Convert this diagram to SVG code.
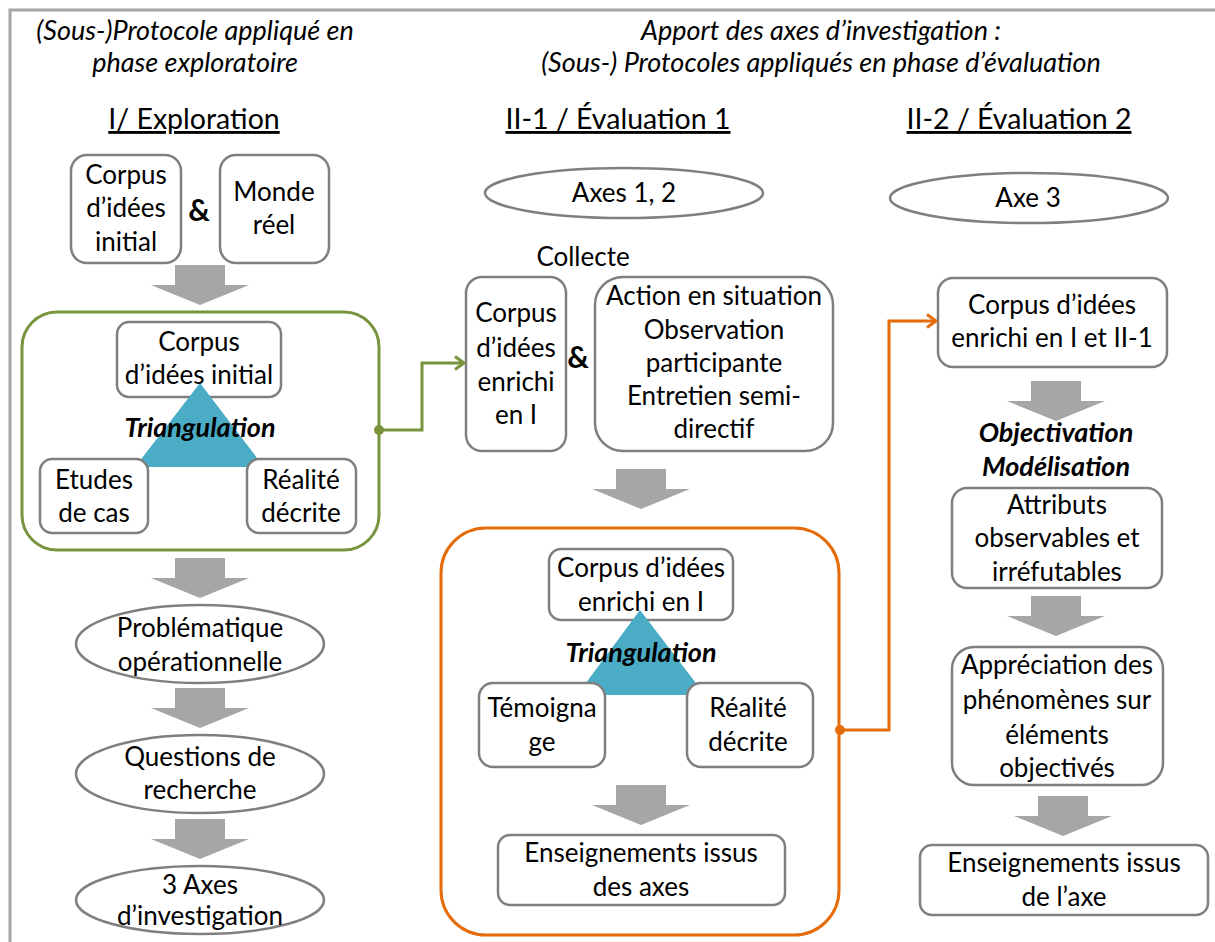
<svg xmlns="http://www.w3.org/2000/svg" width="1215" height="942" viewBox="0 0 1215 942">
<style>
text{font-family:Lato,"Liberation Sans",sans-serif;fill:#000;text-anchor:middle}
.t{font-size:26px}
.h{font-size:28.5px;text-decoration:underline}
.i{font-size:27px;font-style:italic}
.b{font-size:27px;font-style:italic;font-weight:bold}
.amp{font-size:30px;font-weight:bold}
.box{fill:#fff;stroke:#7f7f7f;stroke-width:2.5}
.tri{fill:#4bacc6}
.frame{stroke:#a6a6a6;stroke-width:3;fill:none}
</style>
<defs>
<path id="bigArrow" d="M-25,0 H25 V20 H49 L0,40 L-49,20 H-25 Z" fill="#a6a6a6"/>
<marker id="mGreen" markerWidth="14" markerHeight="16" refX="11" refY="8" orient="auto" markerUnits="userSpaceOnUse">
<path d="M2,1.5 L11,8 L2,14.5" fill="none" stroke="#77933c" stroke-width="3"/>
</marker>
<marker id="mOrange" markerWidth="14" markerHeight="16" refX="11" refY="8" orient="auto" markerUnits="userSpaceOnUse">
<path d="M2,1.5 L11,8 L2,14.5" fill="none" stroke="#e46c0a" stroke-width="3"/>
</marker>
</defs>

<path class="frame" d="M10,942 V10 H1215"/>

<g id="headers">
<text class="i" x="195" y="40">(Sous-)Protocole appliqué en</text>
<text class="i" x="195" y="72">phase exploratoire</text>
<text class="i" x="821" y="40">Apport des axes d’investigation :</text>
<text class="i" x="821" y="72">(Sous-) Protocoles appliqués en phase d’évaluation</text>
<text class="h" x="194" y="129">I/ Exploration</text>
<text class="h" x="618" y="129">II-1 / Évaluation 1</text>
<text class="h" x="1019" y="129">II-2 / Évaluation 2</text>
</g>

<g id="block-arrows">
<use href="#bigArrow" x="200" y="265"/>
<use href="#bigArrow" x="200" y="558"/>
<use href="#bigArrow" x="200" y="688"/>
<use href="#bigArrow" x="200" y="819"/>
<use href="#bigArrow" x="641" y="469"/>
<use href="#bigArrow" x="1056" y="381"/>
<use href="#bigArrow" x="1056" y="596"/>
<use href="#bigArrow" x="1063" y="796"/>
</g>

<!-- Column I -->
<g id="corpus-initial">
<rect class="box" x="71" y="155" width="110" height="108" rx="16"/>
<text class="t" x="126" y="184">Corpus</text>
<text class="t" x="126" y="217">d’idées</text>
<text class="t" x="126" y="251">initial</text>
</g>
<g id="amp1"><text class="amp" x="199" y="221">&amp;</text></g>
<g id="monde-reel">
<rect class="box" x="220" y="155" width="109" height="108" rx="16"/>
<text class="t" x="274" y="201">Monde</text>
<text class="t" x="274" y="234">réel</text>
</g>

<g id="triangulation-1">
<rect x="22" y="312" width="357" height="238" rx="35" fill="#fff" stroke="#77933c" stroke-width="3"/>
<rect class="box" x="117" y="322" width="164" height="75" rx="12"/>
<polygon class="tri" points="200,383 135,467 264,467"/>
<text class="t" x="199" y="351">Corpus</text>
<text class="t" x="199" y="384">d’idées initial</text>
<rect class="box" x="40" y="459" width="108" height="74" rx="12"/>
<text class="t" x="94" y="489">Etudes</text>
<text class="t" x="94" y="522">de cas</text>
<rect class="box" x="247" y="459" width="109" height="74" rx="12"/>
<text class="t" x="301" y="489">Réalité</text>
<text class="t" x="301" y="522">décrite</text>
<text class="b" x="200" y="437">Triangulation</text>
</g>

<g id="problematique">
<ellipse class="box" cx="200" cy="644" rx="124" ry="39"/>
<text class="t" x="200" y="637">Problématique</text>
<text class="t" x="200" y="671">opérationnelle</text>
</g>
<g id="questions">
<ellipse class="box" cx="200" cy="774" rx="124" ry="39"/>
<text class="t" x="200" y="766">Questions de</text>
<text class="t" x="200" y="799">recherche</text>
</g>
<g id="axes3">
<ellipse class="box" cx="200" cy="900" rx="124" ry="34"/>
<text class="t" x="200" y="894">3 Axes</text>
<text class="t" x="200" y="925">d’investigation</text>
</g>

<!-- Column II-1 -->
<g id="axes12">
<ellipse class="box" cx="624" cy="193" rx="139" ry="25"/>
<text class="t" x="624" y="202">Axes 1, 2</text>
</g>
<g id="collecte"><text class="t" x="583" y="266">Collecte</text></g>
<g id="corpus-enrichi-I">
<rect class="box" x="466" y="277" width="100" height="174" rx="16"/>
<text class="t" x="516" y="322">Corpus</text>
<text class="t" x="516" y="357">d’idées</text>
<text class="t" x="516" y="391">enrichi</text>
<text class="t" x="516" y="424">en I</text>
</g>
<g id="amp2"><text class="amp" x="578" y="368">&amp;</text></g>
<g id="action">
<rect class="box" x="595" y="277" width="238" height="174" rx="28"/>
<text class="t" x="714" y="305">Action en situation</text>
<text class="t" x="714" y="339">Observation</text>
<text class="t" x="714" y="372">participante</text>
<text class="t" x="714" y="405">Entretien semi-</text>
<text class="t" x="714" y="438">directif</text>
</g>

<g id="triangulation-2">
<rect x="441" y="528" width="398" height="407" rx="45" fill="#fff" stroke="#e46c0a" stroke-width="3"/>
<rect class="box" x="549" y="549" width="184" height="71" rx="12"/>
<polygon class="tri" points="640,610 577,695 705,695"/>
<text class="t" x="641" y="577">Corpus d’idées</text>
<text class="t" x="641" y="611">enrichi en I</text>
<rect class="box" x="479" y="683" width="126" height="84" rx="14"/>
<text class="t" x="542" y="717">Témoigna</text>
<text class="t" x="542" y="751">ge</text>
<rect class="box" x="687" y="683" width="126" height="84" rx="14"/>
<text class="t" x="748" y="717">Réalité</text>
<text class="t" x="748" y="751">décrite</text>
<text class="b" x="641" y="662">Triangulation</text>
<use href="#bigArrow" x="641" y="785"/>
<rect class="box" x="498" y="835" width="287" height="70" rx="12"/>
<text class="t" x="641" y="862">Enseignements issus</text>
<text class="t" x="641" y="896">des axes</text>
</g>

<!-- Column II-2 -->
<g id="axe3">
<ellipse class="box" cx="1029" cy="198" rx="139" ry="25"/>
<text class="t" x="1028" y="207">Axe 3</text>
</g>
<g id="corpus-enrichi-I-II1">
<rect class="box" x="938" y="278" width="229" height="89" rx="15"/>
<text class="t" x="1052" y="314">Corpus d’idées</text>
<text class="t" x="1052" y="347">enrichi en I et II-1</text>
</g>
<g id="objectivation">
<text class="b" x="1056" y="442">Objectivation</text>
<text class="b" x="1056" y="476">Modélisation</text>
</g>
<g id="attributs">
<rect class="box" x="952" y="488" width="210" height="100" rx="15"/>
<text class="t" x="1057" y="514">Attributs</text>
<text class="t" x="1057" y="547">observables et</text>
<text class="t" x="1057" y="581">irréfutables</text>
</g>
<g id="appreciation">
<rect class="box" x="952" y="647" width="211" height="138" rx="22"/>
<text class="t" x="1057" y="674">Appréciation des</text>
<text class="t" x="1057" y="709">phénomènes sur</text>
<text class="t" x="1057" y="744">éléments</text>
<text class="t" x="1057" y="777">objectivés</text>
</g>
<g id="enseignements-axe">
<rect class="box" x="920" y="845" width="288" height="70" rx="12"/>
<text class="t" x="1064" y="872">Enseignements issus</text>
<text class="t" x="1064" y="906">de l’axe</text>
</g>

<g id="connectors" fill="none" stroke-width="3" stroke-linejoin="miter">
<path d="M379,430 H422 V363 H464" stroke="#77933c" marker-end="url(#mGreen)"/>
<circle cx="379" cy="430" r="5" fill="#77933c" stroke="none"/>
<path d="M840,730 H889 V321 H936" stroke="#e46c0a" marker-end="url(#mOrange)"/>
<circle cx="840" cy="730" r="5" fill="#e46c0a" stroke="none"/>
</g>
</svg>
